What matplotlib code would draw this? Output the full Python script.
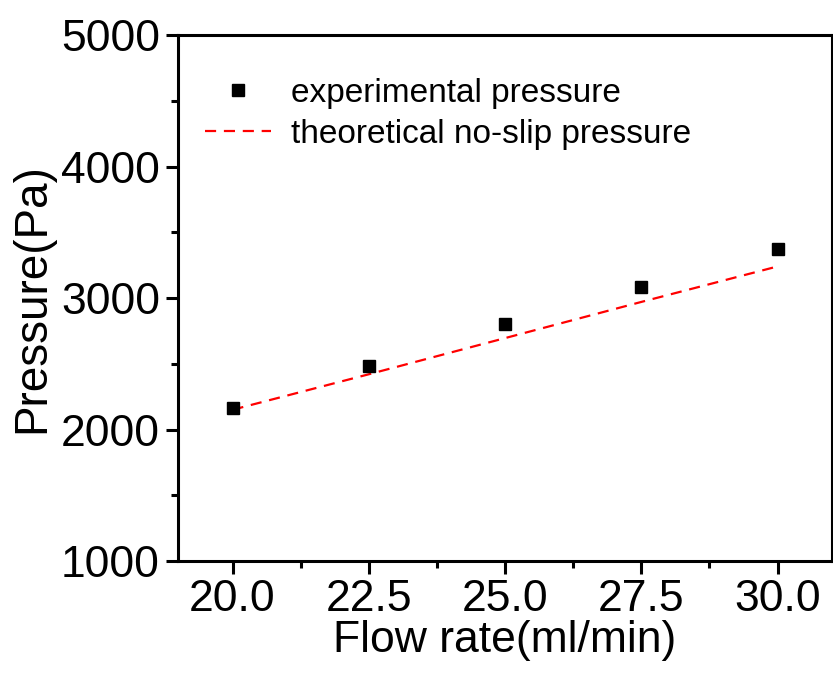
import matplotlib
matplotlib.use("Agg")
import matplotlib.pyplot as plt
from matplotlib.ticker import MultipleLocator

plt.rcParams['font.family'] = ['Liberation Sans', 'DejaVu Sans']

flow_rate = [20.0, 22.5, 25.0, 27.5, 30.0]
exp_pressure = [2160, 2480, 2805, 3080, 3375]
theory_pressure = [2150, 2420, 2695, 2970, 3240]


def plot_pressure():
    fig = plt.figure(figsize=(8.33, 6.73), dpi=100)
    ax = fig.add_axes([0.2137, 0.1664, 0.7851, 0.7816])
    ax.plot(flow_rate, exp_pressure, 's', color='black', markersize=8,
            label='experimental pressure', zorder=3)
    ax.plot(flow_rate, theory_pressure, '--', color='red', linewidth=1.6,
            dashes=(5, 3.5), label='theoretical no-slip pressure')
    ax.set_xlim(19, 31)
    ax.set_ylim(1000, 5000)
    ax.xaxis.set_major_locator(MultipleLocator(2.5))
    ax.xaxis.set_minor_locator(MultipleLocator(1.25))
    ax.yaxis.set_major_locator(MultipleLocator(1000))
    ax.yaxis.set_minor_locator(MultipleLocator(500))
    ax.xaxis.set_major_formatter(matplotlib.ticker.FormatStrFormatter('%.1f'))
    for s in ax.spines.values():
        s.set_linewidth(2.2)
    ax.tick_params(which='major', direction='out', length=9, width=2.2,
                   labelsize=32, pad=4)
    ax.tick_params(which='minor', direction='out', length=5, width=2.2)
    ax.set_xlabel('Flow rate(ml/min)', fontsize=32, labelpad=0)
    ax.set_ylabel('Pressure(Pa)', fontsize=33, labelpad=5)
    ax.legend(loc='upper left', frameon=False, fontsize=24,
              bbox_to_anchor=(-0.005, 0.975), handlelength=2.0,
              handletextpad=0.6, labelspacing=0.3)
    fig.savefig('out.png', dpi=100)


if __name__ == "__main__":
    plot_pressure()
